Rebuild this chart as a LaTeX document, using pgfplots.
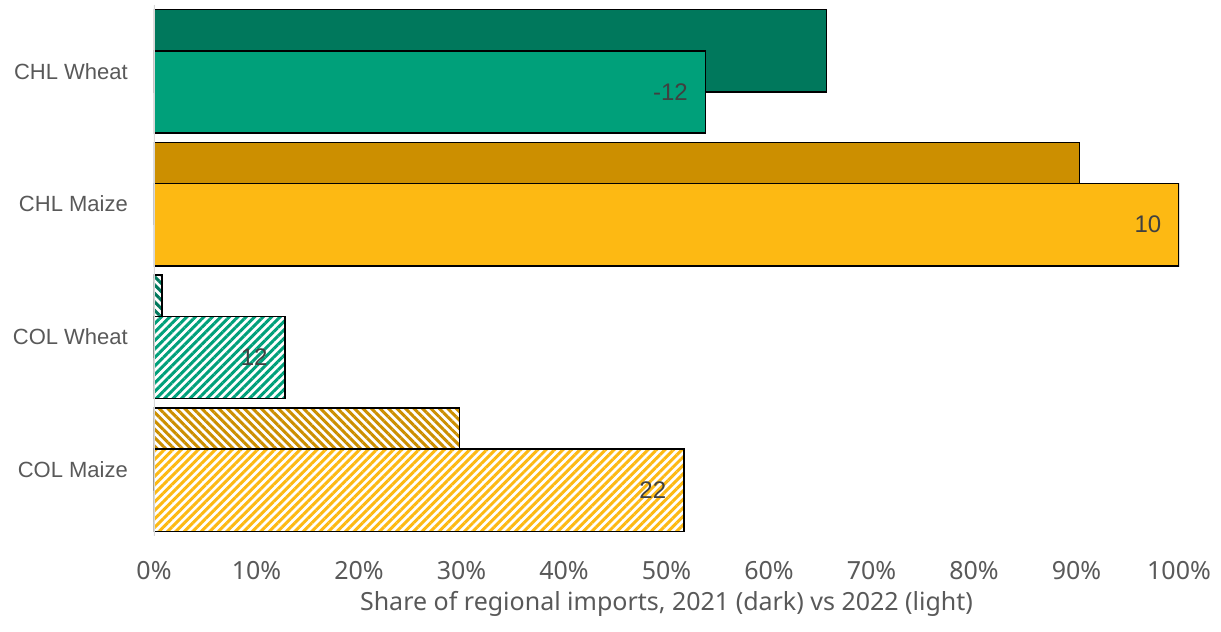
\documentclass[border=0pt]{standalone}
\usepackage{pgfplots}
\pgfplotsset{compat=1.18}
\usepackage{fontspec}
\setmainfont{Liberation Sans}
\newfontfamily\plex{Noto Sans}
\usetikzlibrary{patterns.meta,calc}
\definecolor{dgreen}{HTML}{00785C}
\definecolor{lgreen}{HTML}{00A07A}
\definecolor{dgold}{HTML}{CC8F00}
\definecolor{lgold}{HTML}{FDB913}
\definecolor{txt}{HTML}{595959}
\tikzset{
 hatchD/.style={fill=white, postaction={pattern={Lines[angle=-45,distance=6pt,line width=3pt]}, pattern color=#1}},
 hatchL/.style={fill=white, postaction={pattern={Lines[angle=45,distance=6pt,line width=3pt]}, pattern color=#1}},
}
\begin{document}
\begin{tikzpicture}
\begin{axis}[
 name=ax,
 scale only axis, width=1025pt, height=531pt,
 xmin=0, xmax=100, ymin=-0.5, ymax=3.5, y dir=reverse,
 xbar, bar width=0.62,
 ytick={0,1,2,3}, yticklabels={CHL Wheat, CHL Maize, COL Wheat, COL Maize},
 xtick={0,10,...,100},
 xticklabels={0\%,10\%,20\%,30\%,40\%,50\%,60\%,70\%,80\%,90\%,100\%},
 axis line style={draw=none},
 major tick length=0,
 yticklabel style={font=\fontsize{22}{26}\selectfont, text=txt, anchor=east, inner sep=0pt, xshift=-26pt},
 xticklabel style={font=\plex\fontsize{25}{29}\selectfont, text=txt, anchor=base, inner sep=0pt, yshift=-43pt},
 xlabel={Share of regional imports, 2021 (dark) vs 2022 (light)},
 xlabel style={font=\plex\fontsize{25}{29}\selectfont, text=txt, at={(axis description cs:0.5,0)}, anchor=base, yshift=-74pt},
 every axis plot/.append style={draw=black, line width=1.5pt},
 every node near coord/.append style={anchor=east, inner sep=0pt, xshift=-17pt, text=black!75, font=\fontsize{24}{28}\selectfont},
]
% 2021 (dark)
\addplot[fill=dgreen, bar shift=-0.155] coordinates {(65.6,0)};
\addplot[fill=dgold, bar shift=-0.155] coordinates {(90.3,1)};
\addplot[hatchD=dgreen, bar shift=-0.155] coordinates {(0.8,2)};
\addplot[hatchD=dgold, bar shift=-0.155] coordinates {(29.8,3)};
% 2022 (light)
\addplot[fill=lgreen, bar shift=0.155, nodes near coords, point meta=explicit symbolic] coordinates {(53.8,0) [-12]};
\addplot[fill=lgold, bar shift=0.155, nodes near coords, point meta=explicit symbolic] coordinates {(100,1) [10]};
\addplot[hatchL=lgreen, bar shift=0.155, nodes near coords, point meta=explicit symbolic] coordinates {(12.8,2) [12]};
\addplot[hatchL=lgold, bar shift=0.155, nodes near coords, point meta=explicit symbolic] coordinates {(51.7,3) [22]};
\draw[black!15, line width=2pt] (axis cs:0,-0.5) -- (axis cs:0,3.5);
\end{axis}
\pgfresetboundingbox
\path (ax.south west) ++(-154pt,-95pt) rectangle ($(ax.north east)+(42pt,5pt)$);
\end{tikzpicture}
\end{document}
